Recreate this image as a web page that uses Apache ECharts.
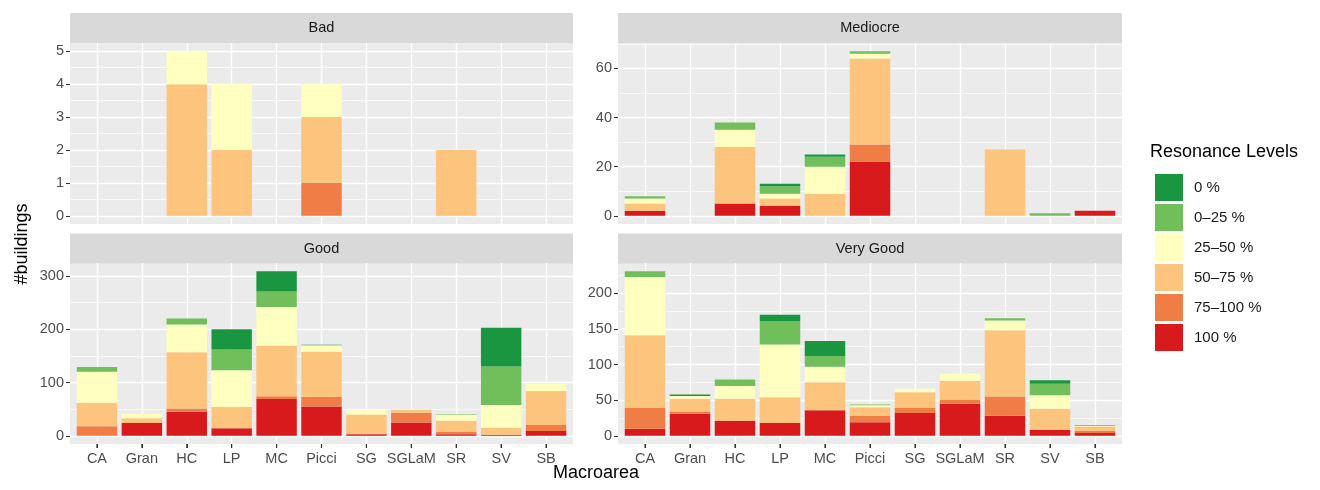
<!DOCTYPE html>
<html>
<head>
<meta charset="utf-8">
<script src="https://cdn.jsdelivr.net/npm/echarts@6/dist/echarts.min.js"></script>
<style>
  html, body { margin: 0; padding: 0; background: #ffffff; }
  #chart { width: 1320px; height: 490px; }
</style>
</head>
<body>
<div id="chart"></div>
<script>
// ---- data ---------------------------------------------------------------
const macroareas = ['CA', 'Gran', 'HC', 'LP', 'MC', 'Picci', 'SG', 'SGLaM', 'SR', 'SV', 'SB'];
const levels = ['0 %', '0–25 %', '25–50 %', '50–75 %', '75–100 %', '100 %'];
const levelColors = ['#1a9641', '#70bf5b', '#ffffbf', '#fdc47d', '#f07c46', '#d91a1c'];
const conditions = ['Bad', 'Mediocre', 'Good', 'Very Good'];

// building counts per resonance level, one value per macroarea
const bad_0      = [0, 0, 0, 0, 0, 0, 0, 0, 0, 0, 0];
const bad_0_25   = [0, 0, 0, 0, 0, 0, 0, 0, 0, 0, 0];
const bad_25_50  = [0, 0, 1, 2, 0, 1, 0, 0, 0, 0, 0];
const bad_50_75  = [0, 0, 4, 2, 0, 2, 0, 0, 2, 0, 0];
const bad_75_100 = [0, 0, 0, 0, 0, 1, 0, 0, 0, 0, 0];
const bad_100    = [0, 0, 0, 0, 0, 0, 0, 0, 0, 0, 0];

const med_0      = [0, 0, 0, 1, 1, 0, 0, 0, 0, 0, 0];
const med_0_25   = [1, 0, 3, 3, 4, 1, 0, 0, 0, 1, 0];
const med_25_50  = [2, 0, 7, 2, 11, 2, 0, 0, 0, 0, 0];
const med_50_75  = [3, 0, 23, 3, 9, 35, 0, 0, 27, 0, 0];
const med_75_100 = [0, 0, 0, 0, 0, 7, 0, 0, 0, 0, 0];
const med_100    = [2, 0, 5, 4, 0, 22, 0, 0, 0, 0, 2];

const good_0      = [0, 0, 0, 38, 38, 1, 0, 0, 0, 73, 0];
const good_0_25   = [9, 0, 11, 39, 29, 0, 0, 0, 1, 72, 0];
const good_25_50  = [58, 8, 52, 69, 73, 12, 8, 0, 12, 43, 13];
const good_50_75  = [44, 9, 106, 40, 95, 85, 36, 6, 21, 13, 64];
const good_75_100 = [18, 0, 6, 0, 5, 18, 1, 18, 4, 0, 11];
const good_100    = [0, 24, 45, 14, 69, 55, 3, 25, 3, 2, 9];

const vgood_0      = [0, 2, 0, 9, 21, 0, 0, 0, 0, 5, 0];
const vgood_0_25   = [8, 0, 9, 33, 15, 1, 0, 0, 3, 16, 1];
const vgood_25_50  = [82, 4, 18, 74, 22, 3, 5, 10, 14, 19, 1];
const vgood_50_75  = [102, 18, 31, 36, 39, 12, 22, 26, 93, 30, 6];
const vgood_75_100 = [29, 3, 0, 0, 0, 9, 7, 6, 27, 0, 3];
const vgood_100    = [10, 31, 21, 18, 36, 19, 32, 45, 28, 8, 4];

// y-axis tick labels of each facet
const badTicks = [0, 1, 2, 3, 4, 5];
const medTicks = [0, 20, 40, 60];
const goodTicks = [0, 100, 200, 300];
const vgoodTicks = [0, 50, 100, 150, 200];

// ---- layout ---------------------------------------------------------------
const FONT = '"Liberation Sans", Arial, Helvetica, sans-serif';
const columns = [{ left: 70, width: 503 }, { left: 618, width: 504 }];
const rows = [{ top: 43, height: 181, stripTop: 13 }, { top: 263, height: 181, stripTop: 233.5 }];
const STRIP_H = 30;
const TICK_LEN = 4;
const HIDDEN_LINE = { show: true, onZero: false, lineStyle: { color: 'rgba(0,0,0,0)', width: 0 } };
const TICK_STYLE = { color: '#333333', width: 1.1 };

const facets = [
  { title: conditions[0], col: 0, row: 0, ticks: badTicks,
    stacks: [bad_0, bad_0_25, bad_25_50, bad_50_75, bad_75_100, bad_100] },
  { title: conditions[1], col: 1, row: 0, ticks: medTicks,
    stacks: [med_0, med_0_25, med_25_50, med_50_75, med_75_100, med_100] },
  { title: conditions[2], col: 0, row: 1, ticks: goodTicks,
    stacks: [good_0, good_0_25, good_25_50, good_50_75, good_75_100, good_100] },
  { title: conditions[3], col: 1, row: 1, ticks: vgoodTicks,
    stacks: [vgood_0, vgood_0_25, vgood_25_50, vgood_50_75, vgood_75_100, vgood_100] }
];

const nCat = macroareas.length;
const catPositions = macroareas.map((_, j) => j);
const grid = [], xAxis = [], yAxis = [], series = [], graphic = [];

facets.forEach((f, i) => {
  const c = columns[f.col], r = rows[f.row];
  const bottomRow = f.row === 1;

  // y range: stacked totals with a 5% margin on both sides
  const totals = macroareas.map((_, j) => f.stacks.reduce((s, arr) => s + arr[j], 0));
  const top = Math.max(...totals);
  const pad = top * 0.05;
  const yMin = -pad, yMax = top + pad;
  f.yMin = yMin;
  const step = f.ticks[1] - f.ticks[0];
  const minors = [];
  f.ticks.forEach(t => { if (t + step / 2 <= yMax) minors.push(t + step / 2); });

  // panel grid: grey background, grid lines, y labels
  const band = c.width / (nCat + 0.2);
  grid.push({ left: c.left, top: r.top, width: c.width, height: r.height,
              show: true, backgroundColor: '#ebebeb', borderWidth: 0 });
  // bar grid: category bands inset by 0.1 band on each side
  grid.push({ left: c.left + 0.1 * band, top: r.top, width: nCat * band, height: r.height,
              show: false });

  xAxis.push({ gridIndex: 2 * i, type: 'value', min: -0.6, max: nCat - 1 + 0.6, show: false,
               axisLine: { onZero: false } });
  xAxis.push({
    gridIndex: 2 * i + 1, type: 'category', data: macroareas, boundaryGap: true,
    position: 'bottom', z: 6,
    axisLine: HIDDEN_LINE,
    axisTick: { show: bottomRow, alignWithLabel: true, length: TICK_LEN, lineStyle: TICK_STYLE },
    axisLabel: { show: bottomRow, color: '#4d4d4d', fontSize: 14.5, fontFamily: FONT, margin: 7, interval: 0 },
    splitLine: { show: false }
  });

  yAxis.push({
    gridIndex: 2 * i, type: 'value', min: yMin, max: yMax,
    position: 'left', z: 6,
    minInterval: step, maxInterval: step,
    axisLine: HIDDEN_LINE,
    splitLine: { show: false },
    axisTick: { show: true, customValues: f.ticks, length: TICK_LEN, lineStyle: TICK_STYLE },
    axisLabel: {
      customValues: f.ticks, color: '#4d4d4d', fontSize: 14.5, fontFamily: FONT, margin: 6,
      formatter: v => (f.ticks.indexOf(Math.round(v * 1000) / 1000) >= 0 ? String(Math.round(v)) : '')
    }
  });
  yAxis.push({ gridIndex: 2 * i + 1, type: 'value', min: yMin, max: yMax, show: false,
               axisLine: { onZero: false } });

  // white grid lines of the panel
  const lines = [];
  f.ticks.forEach(v => lines.push({ yAxis: v }));
  minors.forEach(v => lines.push({ yAxis: v, lineStyle: { color: '#ffffff', width: 0.7, type: 'solid' } }));
  catPositions.forEach(j => lines.push({ xAxis: j }));
  series.push({
    type: 'line', xAxisIndex: 2 * i, yAxisIndex: 2 * i, data: [], silent: true, z: 1,
    markLine: {
      silent: true, z: 1, animation: false, symbol: ['none', 'none'],
      label: { show: false }, emphasis: { disabled: true },
      lineStyle: { color: '#ffffff', width: 1.4, type: 'solid' },
      data: lines
    }
  });

  // stacked bars, 100 % at the bottom
  for (let k = levels.length - 1; k >= 0; k--) {
    series.push({
      type: 'bar', name: levels[k], stack: 'facet' + i,
      xAxisIndex: 2 * i + 1, yAxisIndex: 2 * i + 1,
      barWidth: '90%', z: 2,
      itemStyle: { color: levelColors[k], borderWidth: 0 },
      emphasis: { disabled: true },
      data: f.stacks[k]
    });
  }

  // facet strip
  graphic.push({
    type: 'rect', silent: true, z: 0,
    shape: { x: c.left, y: r.stripTop, width: c.width, height: STRIP_H },
    style: { fill: '#d9d9d9' }
  });
  graphic.push({
    type: 'text', silent: true, z: 10,
    x: c.left + c.width / 2, y: r.stripTop + STRIP_H / 2,
    style: { text: f.title, fill: '#1a1a1a', fontSize: 14.5, fontFamily: FONT,
             textAlign: 'center', textVerticalAlign: 'middle' }
  });
});

// axis titles and legend title
graphic.push({
  type: 'text', silent: true, x: (columns[0].left + columns[1].left + columns[1].width) / 2, y: 473,
  style: { text: 'Macroarea', fill: '#000000', fontSize: 18, fontFamily: FONT,
           textAlign: 'center', textVerticalAlign: 'middle' }
});
graphic.push({
  type: 'text', silent: true, x: 22, y: 244, rotation: Math.PI / 2,
  style: { text: '#buildings', fill: '#000000', fontSize: 18, fontFamily: FONT,
           textAlign: 'center', textVerticalAlign: 'middle' }
});
graphic.push({
  type: 'text', silent: true, x: 1150, y: 152,
  style: { text: 'Resonance Levels', fill: '#000000', fontSize: 18, fontFamily: FONT,
           textAlign: 'left', textVerticalAlign: 'middle' }
});

const chart = echarts.init(document.getElementById('chart'), null, { renderer: 'canvas' });
chart.setOption({
  animation: false,
  backgroundColor: '#ffffff',
  textStyle: { fontFamily: FONT },
  grid, xAxis, yAxis, series, graphic,
  tooltip: { show: false },
  legend: {
    data: levels, orient: 'vertical', left: 1150, top: 169,
    itemWidth: 28, itemHeight: 27, itemGap: 3, icon: 'rect',
    selectedMode: false,
    itemStyle: { borderWidth: 0 },
    textStyle: { fontSize: 15, color: '#1a1a1a', fontFamily: FONT, padding: [0, 0, 0, 6] }
  }
});

// x-axis tick marks under the bottom facets, placed through the axis scales
const tickMarks = [];
facets.forEach((f, i) => {
  if (f.row !== 1) return;
  const yBase = chart.convertToPixel({ yAxisIndex: 2 * i }, f.yMin);
  macroareas.forEach(name => {
    const x = chart.convertToPixel({ xAxisIndex: 2 * i + 1 }, name);
    tickMarks.push({
      type: 'line', silent: true, z: 6,
      shape: { x1: x, y1: yBase, x2: x, y2: yBase + TICK_LEN },
      style: { stroke: TICK_STYLE.color, lineWidth: TICK_STYLE.width }
    });
  });
});
chart.setOption({ graphic: graphic.concat(tickMarks) });
</script>
</body>
</html>
